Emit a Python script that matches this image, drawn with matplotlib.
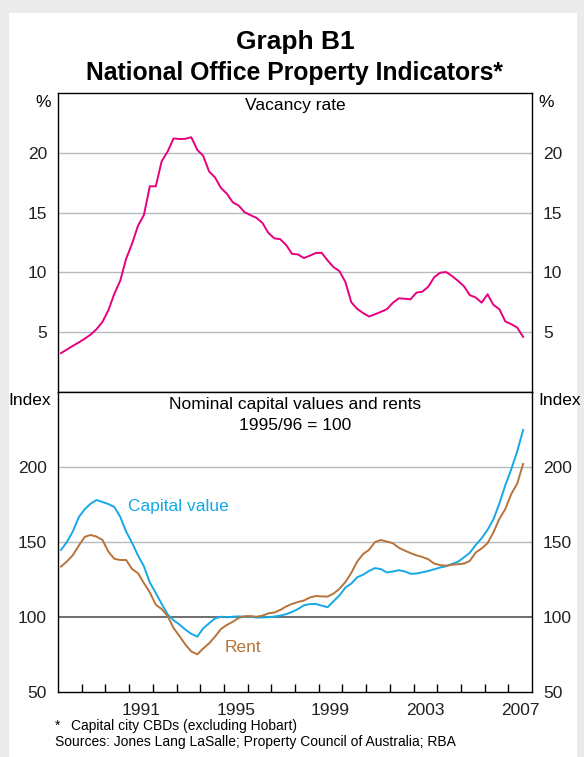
import numpy as np
import matplotlib.pyplot as plt
from matplotlib.patches import Rectangle

plt.rcParams['font.family'] = ['Liberation Sans', 'DejaVu Sans']

# quarterly data, first quarter centred at 1988.125
vacancy = [3.25, 3.55, 3.86, 4.14, 4.45, 4.8, 5.25, 5.86, 6.83, 8.2,
           9.3, 11.14, 12.4, 13.9, 14.8, 17.2, 17.2, 19.3, 20.1, 21.2,
           21.15, 21.17, 21.3, 20.25, 19.75, 18.44, 17.94, 17.06, 16.58, 15.86,
           15.58, 15.03, 14.78, 14.56, 14.14, 13.31, 12.85, 12.78, 12.3, 11.55,
           11.5, 11.2, 11.4, 11.62, 11.64, 11.0, 10.44, 10.11, 9.2, 7.5,
           6.95, 6.6, 6.31, 6.5, 6.7, 6.92, 7.45, 7.83, 7.8, 7.75,
           8.31, 8.39, 8.81, 9.6, 9.97, 10.03, 9.7, 9.3, 8.85, 8.1,
           7.9, 7.47, 8.17, 7.28, 6.92, 5.9, 5.67, 5.39, 4.61]

capital = [144.7, 150, 157, 166.5, 171.8, 175.5, 178, 176.7, 175.3, 173.4,
           166.8, 156.9, 149.5, 141, 133.8, 123, 116, 108.7, 101.8, 97.8,
           95, 91.6, 88.8, 86.9, 92.4, 95.8, 99.1, 100.2, 99.8, 100.2,
           100.4, 100.2, 100.2, 99.6, 99.7, 99.9, 100.3, 100.9, 101.9, 103.4,
           105.3, 107.8, 108.6, 108.7, 107.6, 106.5, 110.5, 114.4, 119.6, 122.3,
           126.5, 128.2, 130.7, 132.6, 131.9, 129.7, 130.3, 131.2, 130.4, 128.8,
           129, 129.8, 130.7, 131.8, 133, 133.8, 135.4, 136.8, 139.7, 142.8,
           148, 152.5, 158.1, 165.2, 175.8, 187.9, 198.5, 210.4, 224.7]

rent = [133.6, 137, 141.2, 147.5, 153.4, 154.7, 153.6, 151.4, 143.6, 138.8,
        138, 138, 132, 129.2, 122.6, 116.4, 108.2, 105.3, 100.6, 92.7,
        87.3, 81.6, 77, 75.1, 79, 82.4, 86.9, 92, 94.7, 96.8,
        99.4, 100.5, 100.6, 100.2, 100.9, 102.4, 103, 104.7, 107, 108.7,
        110, 111, 113, 114, 113.7, 113.6, 115.6, 118.8, 123.3, 129.4,
        137, 142, 144.8, 150, 151.3, 150.3, 149.2, 146.2, 144.3, 142.6,
        141.1, 140, 138.5, 135.6, 134.6, 134.2, 134.8, 135.2, 135.6, 137.4,
        143, 145.7, 149.2, 156.5, 165.5, 172, 182, 188.9, 202]

dates = 1988.125 + 0.25 * np.arange(len(vacancy))

year_labels = [1991, 1995, 1999, 2003, 2007]

magenta = '#e6007e'
cyan = '#14a9e6'
brown = '#b8733a'
grid = '#b3bac2'
fs = 12.5

W, H = 584, 757
fig = plt.figure(figsize=(W / 100, H / 100), dpi=100)
fig.patch.set_facecolor('#ebebeb')
fig.patches.append(Rectangle((9 / W, 0), 568 / W, 1 - 13 / H, transform=fig.transFigure,
                             facecolor='white', edgecolor='none', zorder=-5))

ax1 = fig.add_axes([58 / W, 1 - 392 / H, 474 / W, 299 / H])
ax2 = fig.add_axes([58 / W, 1 - 692 / H, 474 / W, 300 / H])

fig.text(295 / W, 1 - 42 / H, 'Graph B1', ha='center', va='center', fontsize=19, fontweight='bold')
fig.text(295 / W, 1 - 73 / H, 'National Office Property Indicators*', ha='center', va='center',
         fontsize=17.8, fontweight='bold')

for ax in (ax1, ax2):
    ax.set_xlim(1988, 2008)
    for s in ax.spines.values():
        s.set_color('black')
        s.set_linewidth(1.0)
    ax.tick_params(axis='y', left=False, right=False, labelleft=True, labelright=True,
                   labelsize=fs, pad=4.5, colors='#222222')

# top panel
ax1.plot(dates, vacancy, color=magenta, lw=1.4)
ax1.set_ylim(0, 25)
ax1.set_yticks([5, 10, 15, 20])
for v in [5, 10, 15, 20]:
    ax1.axhline(v, color=grid, lw=1.0, zorder=0)
ax1.set_xticks([])
ax1.text(0.5, 0.957, 'Vacancy rate', transform=ax1.transAxes, ha='center', va='center', fontsize=fs)
ax1.text(-0.015, 0.968, '%', transform=ax1.transAxes, ha='right', va='center', fontsize=fs)
ax1.text(1.013, 0.968, '%', transform=ax1.transAxes, ha='left', va='center', fontsize=fs)

# bottom panel
ax2.plot(dates, capital, color=cyan, lw=1.4)
ax2.plot(dates, rent, color=brown, lw=1.4)
ax2.set_ylim(50, 250)
ax2.set_yticks([50, 100, 150, 200])
for v in [150, 200]:
    ax2.axhline(v, color=grid, lw=1.0, zorder=0)
ax2.axhline(100, color='#555555', lw=1.2, zorder=1)
ax2.set_xticks(np.arange(1989, 2008), labels=[])
ax2.set_xticks([y + 0.5 for y in year_labels], labels=[str(y) for y in year_labels], minor=True)
ax2.tick_params(axis='x', which='major', direction='in', length=6, width=1, color='black')
ax2.tick_params(axis='x', which='minor', length=0, labelsize=fs, pad=8, colors='#222222')
ax2.text(0.5, 0.957, 'Nominal capital values and rents', transform=ax2.transAxes,
         ha='center', va='center', fontsize=fs)
ax2.text(0.5, 0.89, '1995/96 = 100', transform=ax2.transAxes, ha='center', va='center', fontsize=fs)
ax2.text(-0.015, 0.973, 'Index', transform=ax2.transAxes, ha='right', va='center', fontsize=fs)
ax2.text(1.013, 0.973, 'Index', transform=ax2.transAxes, ha='left', va='center', fontsize=fs)
ax2.text(1990.97, 174, 'Capital value', color=cyan, ha='left', va='center', fontsize=fs)
ax2.text(1995.05, 79.6, 'Rent', color=brown, ha='left', va='center', fontsize=fs)

fig.text(55 / W, 1 - 726 / H, '*', ha='left', va='center', fontsize=10)
fig.text(71 / W, 1 - 726 / H, 'Capital city CBDs (excluding Hobart)', ha='left', va='center', fontsize=10)
fig.text(55 / W, 1 - 742 / H, 'Sources: Jones Lang LaSalle; Property Council of Australia; RBA',
         ha='left', va='center', fontsize=10)

fig.savefig('out.png', dpi=100, facecolor=fig.get_facecolor())
